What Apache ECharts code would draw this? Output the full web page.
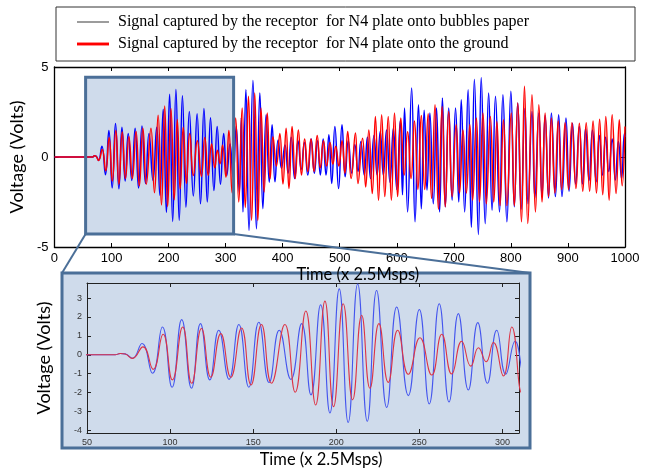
<!DOCTYPE html>
<html><head><meta charset="utf-8">
<script src="https://cdn.jsdelivr.net/npm/echarts@6/dist/echarts.min.js"></script>
<style>html,body{margin:0;padding:0;background:#fff}#c{width:646px;height:469px}</style>
</head><body><div id="c"></div>
<script>
const legendNames = [
  'Signal captured by the receptor  for N4 plate onto bubbles paper',
  'Signal captured by the receptor  for N4 plate onto the ground'
];
const axisTitleY = 'Voltage (Volts)';
const axisTitleX = 'Time (x 2.5Msps)';
const topXRange = [0, 1000];
const topYRange = [-5, 5];
const zoomXRange = [50, 310];
const zoomYRange = [-4.14, 3.8];
const zoomYTicks = [-4, -3, -2, -1, 0, 1, 2, 3];
const zoomXTicks = [50, 100, 150, 200, 250, 300];
const highlightX = [54.6, 314];
const highlightY = [-4.28, 4.43];

// local extremes [sample, volts]
const bubblesPaper = [
[0,0],[67,0],[70,0.07],[73,0.05],[77.3,-0.19],[83.1,0.6],[89.4,-0.98],[95.4,1.47],[101.2,-1.72],[107,1.86],
[112.9,-1.77],[118.3,1.65],[123.9,-1.33],[129.3,1.3],[135.5,-1.3],[141.4,1.6],[147.4,-1.72],[153.4,1.72],[159.6,-1.47],[165.7,1.3],
[172.7,-1.3],[179.2,1.65],[184.8,-2.12],[190.6,2.65],[196.2,-3.08],[201.8,3.49],[207.2,-3.58],[212.9,3.75],[218.7,-3.52],[224.3,3.4],
[230.4,-2.79],[236.4,2.53],[243.4,-2.16],[250,2.4],[256,-2.6],[262,2.7],[267.9,-2.5],[273.5,2.18],[279.5,-1.86],[285.2,1.7],
[291,-1.51],[296.6,1.3],[302,-1.03],[307.7,0.72],[313,-1.1],[318.5,1.7],[324,-2.0],[327.5,2.2],[330.4,-3.05],[335.5,3.74],
[341,-4.08],[347.9,4.25],[354,-3.98],[360,3.56],[365.3,-2.87],[371,2.35],[376.5,-1.4],[381.5,1.79],[386.5,-1.38],[392,0.95],
[398,-0.63],[404,0.67],[409.5,-0.9],[415,1.1],[421,-1.2],[427,0.9],[432.5,-0.7],[438,0.8],[444,-1.0],[450,1.0],
[455.5,-0.9],[461,0.9],[466,-1.0],[471,1.0],[476,-1.0],[481,1.23],[486,-1.47],[491.5,1.7],[498,-1.75],[504,1.79],
[509.5,-1.1],[515,0.9],[521,-0.9],[526.5,0.7],[532,-0.8],[537,0.86],[543,-1.0],[548.5,1.1],[554,-1.2],[560,1.2],
[565.5,-1.0],[571,1.42],[576.5,-1.0],[582,1.5],[588,-1.4],[594,1.6],[600,-1.8],[606,2.0],[610,-2.1],[613.6,2.72],
[619,-3.05],[626,3.84],[632,-3.6],[638,2.9],[643,-2.87],[648,2.6],[653,-1.84],[658,2.44],[664,-2.6],[669.6,2.72],
[675,-3.05],[680,3.28],[685,-2.77],[691,2.72],[697,-2.4],[703,2.72],[708.6,-2.5],[713,3.18],[719,-3.05],[725,3.74],
[730.7,-3.9],[736,4.3],[743,-4.3],[748,4.4],[755,-3.7],[761,3.56],[767,-2.96],[773,3.37],[780,-3.05],[786,3.46],
[793,-3.6],[800,3.65],[806,-2.77],[812,3.0],[818,-2.9],[824.5,2.7],[830,-2.6],[837,2.53],[842,-2.28],[849,2.44],
[854.5,-2.2],[860,2.3],[866,-2.28],[871,2.44],[878,-2.2],[883.7,2.35],[889.6,-2.2],[896.5,2.16],[902,-1.9],[908,1.88],
[913.5,-1.5],[920,1.7],[925.5,-1.5],[931,1.6],[937,-1.3],[943,1.5],[949.5,-1.38],[955,1.2],[960.5,-1.0],[966,1.1],
[971.5,-0.8],[977.5,1.0],[983,-1.28],[988.5,0.86],[994,-1.2],[999,1.3],[1000,1.1]
];
const groundSignal = [
[0,0],[67,0],[70,0.07],[73,0.04],[77.3,-0.19],[83.7,0.42],[89.8,-0.77],[95.8,1.09],[101.4,-1.33],[107.6,1.47],
[113,-1.51],[118.9,1.39],[124.5,-1.19],[130.5,1.12],[136.5,-1.19],[143,1.42],[148.7,-1.6],[155,1.6],[161,-1.51],[169.1,1.6],
[175.3,-1.98],[181.7,2.32],[187.6,-2.66],[193.2,2.84],[198.4,-2.75],[204.2,2.7],[209.9,-2.38],[215.3,2.09],[220.3,-1.77],[225.7,1.65],
[231.3,-1.46],[237,1.3],[243.4,-1.03],[250.4,0.9],[257.5,-1.07],[263.5,1.09],[269.5,-1.02],[275.5,0.72],[281,-0.6],[285.6,0.37],
[290.2,-0.37],[294.6,0.65],[300.6,-1.12],[305.7,1.47],[311.5,-2.0],[317.6,2.16],[323,-2.5],[329,2.72],[334.5,-2.8],[340,3.37],
[345.5,-3.52],[351,3.56],[356.5,-3.52],[362,2.72],[367.5,-1.94],[373,2.44],[378,-1.19],[383,1.13],[389,-0.5],[395,1.3],
[400.5,-1.5],[406,1.6],[411,-1.75],[416.5,1.69],[422,-1.2],[427.5,1.5],[433,-1.0],[438.5,1.0],[444,-0.8],[449.5,1.0],
[455,-0.8],[460.5,1.2],[466,-0.6],[471.5,0.9],[477,-0.5],[483,0.8],[488,-0.4],[493,0.6],[498.5,-0.5],[504,0.9],
[509,-0.9],[514,1.42],[520,-1.19],[527.5,1.33],[532,-1.47],[540,1.04],[545.5,-1.66],[551,1.5],[557,-2.03],[562.5,2.25],
[568,-2.4],[573.5,2.35],[579,-2.2],[585,2.25],[590.5,-2.4],[596,2.44],[601.5,-2.2],[607,2.16],[613,-1.0],[619,1.4],
[625,-1.2],[631,2.0],[637,-1.8],[643,2.3],[649,-1.8],[655,2.4],[661,-2.3],[667,2.9],[673,-2.9],[679.5,2.81],
[685,-2.77],[691,2.53],[697,-2.2],[704,1.79],[710,-2.0],[716,1.5],[722,-2.0],[728,1.8],[733,-2.4],[739.5,2.16],
[745,-2.5],[751,2.44],[757,-2.6],[764,2.25],[770,-2.5],[775.5,1.97],[781,-2.7],[787,2.07],[793,-2.7],[800.6,2.44],
[806,-2.7],[812,3.0],[818.5,-3.6],[823.8,3.93],[829.6,-3.7],[837,3.46],[843,-3.05],[849,2.9],[854.6,-2.5],[860,2.44],
[866,-2.2],[871,2.16],[877,-2.0],[883,2.0],[889,-1.8],[895,1.9],[901,-1.8],[907,1.9],[914,-1.75],[920,1.88],
[926,-1.9],[932,1.9],[938,-1.9],[944,2.0],[950,-2.0],[955.5,2.1],[961,-2.1],[966.4,2.25],[972.2,-2.4],[977.5,2.35],
[984.4,-2.03],[990,2.07],[995,-1.6],[1000,1.7]
];

const chart = echarts.init(document.getElementById('c'), null, {renderer: 'canvas'});
const SANS = 'Liberation Sans';
const TITLE_FONT = 'Lato';
const TITLE_SIZE = 16.5;
const PANEL_FILL = '#cfdbeb';
const PANEL_EDGE = '#4b6f98';

function frameAxis(type, gridIndex, pos, range, opts) {
  return Object.assign({
    type: 'value', gridIndex: gridIndex, position: pos, min: range[0], max: range[1],
    axisLine: {show: true, onZero: false, lineStyle: {color: '#000', width: 1.3}},
    axisTick: {show: true, inside: true, length: 4, lineStyle: {color: '#000'}},
    axisLabel: {show: false},
    splitLine: {show: false}
  }, opts || {});
}

const option = {
  animation: false,
  backgroundColor: '#fff',
  legend: {
    orient: 'vertical', left: 72, top: 9, itemWidth: 32, itemHeight: 10, itemGap: 6,
    textStyle: {fontFamily: 'Liberation Serif', fontSize: 16, color: '#000', padding: [0, 0, 0, 4]},
    data: [
      {name: legendNames[0], icon: 'path://M0 0h33v1H0z', itemStyle: {color: '#333'}},
      {name: legendNames[1], icon: 'path://M0 0h11v1H0z', itemStyle: {color: '#ff0000'}}
    ]
  },
  grid: [
    {left: 51, right: 21, top: 67, height: 180},
    {left: 87, right: 127, top: 283, height: 151}
  ],
  xAxis: [
    frameAxis('x', 0, 'bottom', topXRange, {
      interval: 100,
      axisLabel: {show: true, fontFamily: SANS, fontSize: 13, color: '#000', margin: 5, formatter: v => String(v)},
      name: axisTitleX, nameLocation: 'middle', nameGap: 9,
      nameTextStyle: {fontFamily: TITLE_FONT, fontSize: TITLE_SIZE, color: '#000', padding: [0, 0, 0, 36]}
    }),
    frameAxis('x', 0, 'top', topXRange, {interval: 100}),
    frameAxis('x', 1, 'bottom', zoomXRange, {
      axisLine: {show: true, onZero: false, lineStyle: {color: '#222', width: 1}},
      axisTick: {show: true, inside: true, length: 4, customValues: zoomXTicks, lineStyle: {color: '#222'}},
      axisLabel: {show: true, customValues: zoomXTicks, fontFamily: SANS, fontSize: 9, color: '#333', margin: 5},
      name: axisTitleX, nameLocation: 'middle', nameGap: 18,
      nameTextStyle: {fontFamily: TITLE_FONT, fontSize: TITLE_SIZE, color: '#000', padding: [0, 0, 0, 36]}
    }),
    frameAxis('x', 1, 'top', zoomXRange, {
      axisLine: {show: true, onZero: false, lineStyle: {color: '#222', width: 1}},
      axisTick: {show: true, inside: true, length: 4, customValues: zoomXTicks, lineStyle: {color: '#222'}}
    })
  ],
  yAxis: [
    frameAxis('y', 0, 'left', topYRange, {
      interval: 5,
      axisLabel: {show: true, fontFamily: SANS, fontSize: 13, color: '#000', margin: 6},
      name: axisTitleY, nameLocation: 'middle', nameGap: 18,
      nameTextStyle: {fontFamily: TITLE_FONT, fontSize: 18, color: '#000'}
    }),
    frameAxis('y', 0, 'right', topYRange, {interval: 5}),
    frameAxis('y', 1, 'left', zoomYRange, {
      axisLine: {show: true, onZero: false, lineStyle: {color: '#222', width: 1}},
      axisTick: {show: true, inside: true, length: 4, customValues: zoomYTicks, lineStyle: {color: '#222'}},
      axisLabel: {show: true, customValues: zoomYTicks, fontFamily: SANS, fontSize: 9, color: '#333', margin: 5},
      name: axisTitleY, nameLocation: 'middle', nameGap: 34,
      nameTextStyle: {fontFamily: TITLE_FONT, fontSize: 18, color: '#000'}
    }),
    frameAxis('y', 1, 'right', zoomYRange, {
      axisLine: {show: true, onZero: false, lineStyle: {color: '#222', width: 1}},
      axisTick: {show: true, inside: true, length: 4, customValues: zoomYTicks, lineStyle: {color: '#222'}}
    })
  ],
  series: [
    {name: legendNames[0], type: 'line', xAxisIndex: 0, yAxisIndex: 0, data: bubblesPaper,
     symbol: 'none', smooth: 0.5, lineStyle: {color: '#0000ff', width: 1.5}, itemStyle: {color: '#0000ff'}, z: 3},
    {name: legendNames[1], type: 'line', xAxisIndex: 0, yAxisIndex: 0, data: groundSignal,
     symbol: 'none', smooth: 0.5, lineStyle: {color: '#ff0000', width: 1.5}, itemStyle: {color: '#ff0000'}, z: 4},
    {name: legendNames[0], type: 'line', xAxisIndex: 2, yAxisIndex: 2, data: bubblesPaper,
     symbol: 'none', smooth: 0.5, lineStyle: {color: '#4455ee', width: 1.1}, itemStyle: {color: '#4455ee'}, z: 3},
    {name: legendNames[1], type: 'line', xAxisIndex: 2, yAxisIndex: 2, data: groundSignal,
     symbol: 'none', smooth: 0.5, lineStyle: {color: '#dd3344', width: 1.1}, itemStyle: {color: '#dd3344'}, z: 4}
  ]
};
chart.setOption(option);

// decorations tied to the axes: highlight box on top chart, zoom panel and connectors
const p1 = chart.convertToPixel({xAxisIndex: 0, yAxisIndex: 0}, [highlightX[0], highlightY[1]]);
const p2 = chart.convertToPixel({xAxisIndex: 0, yAxisIndex: 0}, [highlightX[1], highlightY[0]]);
const panel = {x: 62, y: 273, w: 468, h: 175};
chart.setOption({
  graphic: [
    {type: 'rect', z: -10, silent: true, shape: {x: 56, y: 7, width: 579, height: 54},
     style: {fill: '#fff', stroke: '#333', lineWidth: 1}},
    {type: 'rect', z: 1, silent: true, shape: {x: p1[0], y: p1[1], width: p2[0] - p1[0], height: p2[1] - p1[1]},
     style: {fill: PANEL_FILL, stroke: null}},
    {type: 'rect', z: 10, silent: true, shape: {x: p1[0], y: p1[1], width: p2[0] - p1[0], height: p2[1] - p1[1]},
     style: {fill: null, stroke: PANEL_EDGE, lineWidth: 3}},
    {type: 'rect', z: -5, silent: true, shape: {x: panel.x, y: panel.y, width: panel.w, height: panel.h},
     style: {fill: PANEL_FILL, stroke: PANEL_EDGE, lineWidth: 3}},
    {type: 'line', z: 10, silent: true, shape: {x1: p1[0], y1: p2[1], x2: panel.x, y2: panel.y},
     style: {stroke: PANEL_EDGE, lineWidth: 2}},
    {type: 'line', z: 10, silent: true, shape: {x1: p2[0], y1: p2[1], x2: panel.x + panel.w, y2: panel.y},
     style: {stroke: PANEL_EDGE, lineWidth: 2}}
  ]
});
</script>
</body></html>
